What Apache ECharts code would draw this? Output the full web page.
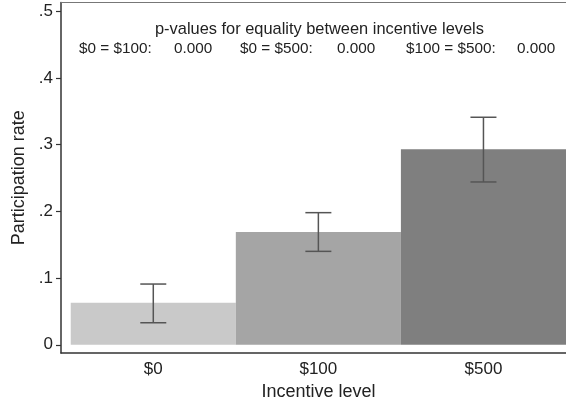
<!DOCTYPE html>
<html>
<head>
<meta charset="utf-8">
<script src="https://cdn.jsdelivr.net/npm/echarts@6/dist/echarts.min.js"></script>
<style>html,body{margin:0;padding:0;background:#fff;}#c{width:566px;height:406px;}</style>
</head>
<body>
<div id="c"></div>
<script>
const categories = ['$0', '$100', '$500'];
const positions = [1, 2, 3];
const rates = [0.063, 0.169, 0.293];
const ciLow = [0.033, 0.140, 0.244];
const ciHigh = [0.091, 0.198, 0.341];
const barColors = ['#c9c9c9', '#a5a5a5', '#7f7f7f'];
const yTicks = [0, 0.1, 0.2, 0.3, 0.4, 0.5];
const yTickLabels = ['0', '.1', '.2', '.3', '.4', '.5'];
const noteTitle = 'p-values for equality between incentive levels';
const noteLabels = ['$0 = $100:', '$0 = $500:', '$100 = $500:'];
const noteValues = ['0.000', '0.000', '0.000'];

const font = 'Liberation Sans, Arial, sans-serif';
const axisColor = '#333';
const textColor = '#222';

const chart = echarts.init(document.getElementById('c'), null, {renderer: 'canvas'});

const noteX = [79, 240, 406];
const valX = [174, 337, 517];
const graphics = [{
  type: 'text', left: 155, top: 21,
  style: {text: noteTitle, font: '16.4px ' + font, fill: textColor}
}];
noteLabels.forEach((t, i) => {
  graphics.push({type: 'text', left: noteX[i], top: 41, style: {text: t, font: '15.3px ' + font, fill: textColor}});
  graphics.push({type: 'text', left: valX[i], top: 41, style: {text: noteValues[i], font: '15.3px ' + font, fill: textColor}});
});

const option = {
  animation: false,
  backgroundColor: '#fff',
  grid: {left: 61, right: 0, top: 2.5, bottom: 45.5, containLabel: false},
  xAxis: [{
    type: 'value', min: 0.441, max: 3.5, position: 'bottom',
    splitLine: {show: false},
    axisLine: {show: true, onZero: false, lineStyle: {color: axisColor, width: 1.5}},
    axisTick: {show: false},
    axisLabel: {customValues: positions, formatter: v => categories[positions.indexOf(v)],
      color: textColor, fontSize: 17, fontFamily: font, margin: 8},
    name: 'Incentive level', nameLocation: 'middle', nameGap: 22,
    nameTextStyle: {color: textColor, fontSize: 18, fontFamily: font, padding: [0, 0, 0, 10]}
  }, {
    type: 'value', min: 0.441, max: 3.5, position: 'top',
    splitLine: {show: false},
    axisLine: {show: true, onZero: false, lineStyle: {color: '#777', width: 1}},
    axisTick: {show: false}, axisLabel: {show: false}
  }],
  yAxis: {
    type: 'value', min: -0.0125, max: 0.513,
    splitLine: {show: false},
    axisLine: {show: true, onZero: false, lineStyle: {color: axisColor, width: 1.5}},
    axisTick: {show: true, customValues: yTicks, length: 5, lineStyle: {color: axisColor, width: 1.2}},
    axisLabel: {customValues: yTicks, formatter: v => yTickLabels[yTicks.indexOf(v)],
      color: textColor, fontSize: 17, fontFamily: font, margin: 8},
    name: 'Participation rate', nameLocation: 'middle', nameGap: 27,
    nameTextStyle: {color: textColor, fontSize: 18, fontFamily: font}
  },
  graphic: graphics,
  series: [{
    type: 'custom',
    data: positions.map((p, i) => [p, rates[i]]),
    renderItem: (params, api) => {
      const x = api.value(0), v = api.value(1);
      const a = api.coord([x - 0.5, v]);
      const b = api.coord([x + 0.5, 0]);
      return {type: 'rect', shape: {x: a[0], y: a[1], width: b[0] - a[0], height: b[1] - a[1]},
        style: {fill: barColors[params.dataIndex]}};
    }
  }, {
    type: 'custom',
    data: positions.map((p, i) => [p, ciLow[i], ciHigh[i]]),
    z: 5,
    renderItem: (params, api) => {
      const x = api.value(0);
      const lo = api.coord([x, api.value(1)]);
      const hi = api.coord([x, api.value(2)]);
      const w = 13;
      const st = {stroke: '#555', lineWidth: 1.5};
      return {type: 'group', children: [
        {type: 'line', shape: {x1: lo[0], y1: lo[1], x2: hi[0], y2: hi[1]}, style: st},
        {type: 'line', shape: {x1: lo[0] - w, y1: lo[1], x2: lo[0] + w, y2: lo[1]}, style: st},
        {type: 'line', shape: {x1: hi[0] - w, y1: hi[1], x2: hi[0] + w, y2: hi[1]}, style: st}
      ]};
    }
  }]
};
chart.setOption(option);
</script>
</body>
</html>
